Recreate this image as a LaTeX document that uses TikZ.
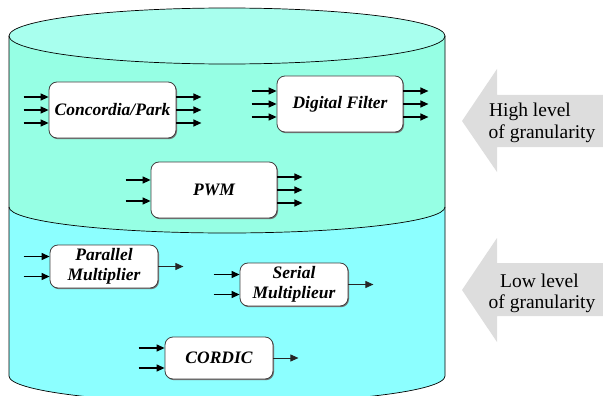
\documentclass[tikz,border=0pt]{standalone}
\usepackage{fontspec}
\setmainfont{Liberation Serif}
\usetikzlibrary{arrows.meta,calc,shadows}
\definecolor{topfill}{HTML}{96FFE4}
\definecolor{lidfill}{HTML}{A8FFEE}
\definecolor{botfill}{HTML}{8CFFFF}
\definecolor{graybg}{HTML}{DDDDDD}
\begin{document}
\begin{tikzpicture}[x=1pt,y=-1pt,
  blk/.style={draw=black!75, line width=0.8pt, fill=white, rounded corners=8pt,
    drop shadow={shadow xshift=1pt, shadow yshift=-1.2pt, fill=black!55, opacity=1},
    font=\fontsize{17.5}{20}\selectfont\bfseries\itshape, align=center, inner sep=0pt},
  arr/.style={line width=1.2pt, -{Triangle[length=8pt,width=7pt]}},
  tarr/.style={line width=0.9pt, draw=black!85, -{Triangle[length=8pt,width=7pt]}},
  lbl/.style={font=\fontsize{19.5}{23}\selectfont, anchor=base, inner sep=0pt},
  cyl/.style={line width=0.7pt, draw=black}]
\useasboundingbox (0,0) rectangle (603,396);
% gray arrows
\fill[graybg] (462,121) -- (497,69) -- (497,95) -- (603,95) -- (603,147) -- (497,147) -- (497,172) -- cycle;
\fill[graybg] (462,290) -- (497,238) -- (497,263) -- (603,263) -- (603,316) -- (497,316) -- (497,342) -- cycle;
\node[lbl] (hl1) at (530,117) {High level};
\node[lbl] (hl2) at (542,139) {of granularity};
\node[lbl] (ll1) at (539.5,287) {Low level};
\node[lbl] (ll2) at (542,308) {of granularity};
% cylinder
\fill[botfill] (9,207) -- (9,376) arc[start angle=180,end angle=360,x radius=218pt,y radius=27pt]
  -- (445,207) arc[start angle=0,end angle=-180,x radius=218pt,y radius=26pt] -- cycle;
\fill[topfill] (9,36) -- (9,207) arc[start angle=180,end angle=360,x radius=218pt,y radius=26pt]
  -- (445,36) -- cycle;
\draw[cyl, fill=lidfill] (227,36) ellipse[x radius=218pt, y radius=28pt];
\draw[cyl] (9,36) -- (9,376) arc[start angle=180,end angle=360,x radius=218pt,y radius=27pt] -- (445,36);
\draw[cyl] (9,207) arc[start angle=180,end angle=360,x radius=218pt,y radius=26pt];
% blocks
\node[blk, minimum width=127pt, minimum height=56pt] (cp) at (112.5,110) {Concordia/Park};
\node[blk, minimum width=126pt, minimum height=56pt] (df) at (340,104) {Digital Filter};
\node[blk, minimum width=126pt, minimum height=56pt] (pwm) at (214,190) {PWM};
\node[blk, minimum width=108pt, minimum height=43pt] (pm) at (104,266.5) {Parallel\\Multiplier};
\node[blk, minimum width=108pt, minimum height=43pt] (sm) at (294,284.5) {Serial\\Multiplieur};
\node[blk, minimum width=108pt, minimum height=42pt] (cor) at (219,358) {CORDIC};
% arrows
\foreach \n in {cp,df}{
  \foreach \d in {-13,0,13}{
    \draw[arr] ($(\n.west)+(-25,\d)$) -- ($(\n.west)+(0,\d)$);
    \draw[arr] ($(\n.east)+(0,\d)$) -- ($(\n.east)+(25,\d)$);
  }
}
\foreach \d in {-10,11}{\draw[arr] ($(pwm.west)+(-25,\d)$) -- ($(pwm.west)+(0,\d)$);}
\foreach \d in {-13,0,13}{\draw[arr] ($(pwm.east)+(0,\d)$) -- ($(pwm.east)+(25,\d)$);}
\foreach \n in {pm,sm,cor}{
  \foreach \d in {-10,10}{\draw[arr] ($(\n.west)+(-26,\d)$) -- ($(\n.west)+(0,\d)$);}
  \draw[tarr] (\n.east) -- ($(\n.east)+(25,0)$);
}
\end{tikzpicture}
\end{document}
